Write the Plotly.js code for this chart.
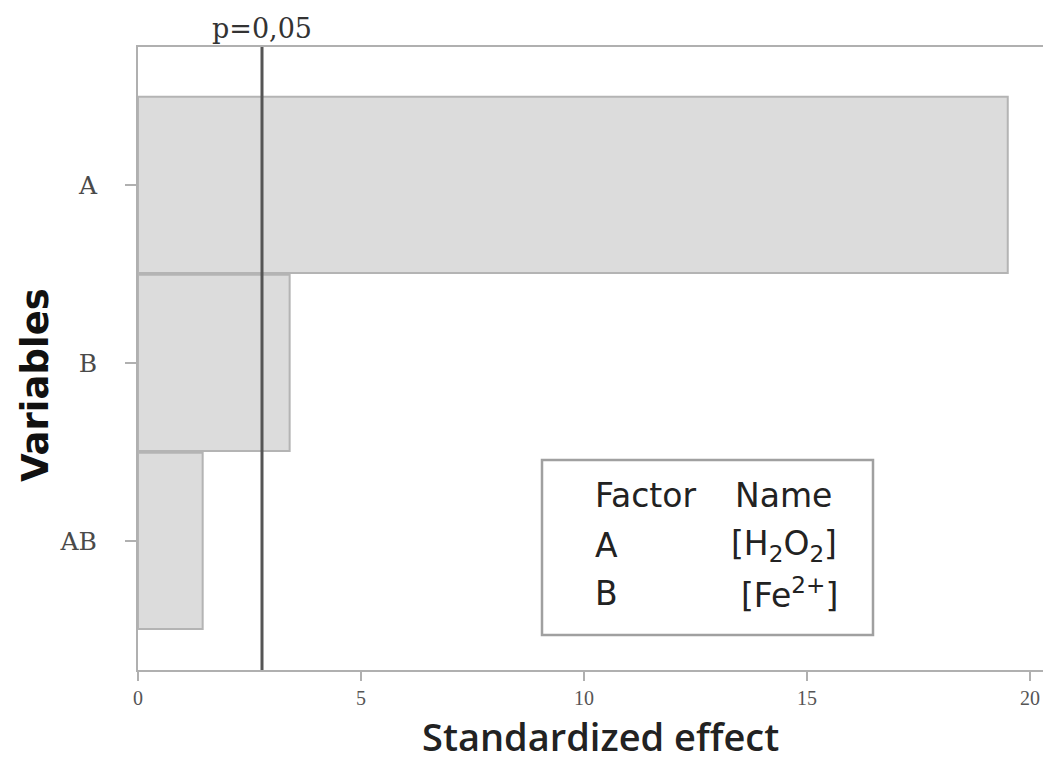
<!DOCTYPE html>
<html>
<head>
<meta charset="utf-8">
<script src="https://cdn.plot.ly/plotly-3.0.1.min.js"></script>
<style>html,body{margin:0;padding:0;background:#fff;}#chart{width:1043px;height:764px;}</style>
</head>
<body>
<div id="chart"></div>
<script>
const variables = ["A", "B", "AB"];
const effects = [19.5, 3.4, 1.45];
const pValueLine = 2.78;
const pLabel = "p=0,05";
const xTicks = [0, 5, 10, 15, 20];
const legendHeader = ["Factor", "Name"];
const legendFactors = ["A", "B"];
const legendNames = ["[H<sub>2</sub>O<sub>2</sub>]", "[Fe<sup>2+</sup>]"];

const L = 138, T = 47, W = 905, H = 623;
const px = x => (x - L) / W;
const py = y => (T + H - y) / H;

const trace = {
  type: "bar",
  orientation: "h",
  x: effects,
  y: variables,
  width: 0.99,
  marker: {color: "#dcdcdc", line: {color: "#b4b4b4", width: 2}},
  hoverinfo: "x+y"
};

const legFont = {family: "DejaVu Sans", size: 33, color: "#222"};
const annotations = [
  {x: pValueLine, xref: "x", y: py(29), yref: "paper", text: pLabel, showarrow: false,
   xanchor: "center", yanchor: "middle", font: {family: "DejaVu Serif", size: 27, color: "#333"}},
  {x: px(600), xref: "paper", y: py(736), yref: "paper", text: "Standardized effect", showarrow: false,
   xanchor: "center", yanchor: "middle", font: {family: "Open Sans", size: 38, color: "#222", weight: 600}},
  {x: px(35), xref: "paper", y: py(385), yref: "paper", text: "Variables", showarrow: false, textangle: -90,
   xanchor: "center", yanchor: "middle", font: {family: "DejaVu Sans", size: 37, color: "#111", weight: 700}},
  {x: px(593), xref: "paper", y: py(495), yref: "paper", text: legendHeader[0], showarrow: false,
   xanchor: "left", yanchor: "middle", font: legFont},
  {x: px(733), xref: "paper", y: py(495), yref: "paper", text: legendHeader[1], showarrow: false,
   xanchor: "left", yanchor: "middle", font: legFont}
];
const rowsY = [545, 593];
const nameX = [729, 739];
legendFactors.forEach((f, i) => {
  annotations.push({x: px(593), xref: "paper", y: py(rowsY[i]), yref: "paper", text: f, showarrow: false,
    xanchor: "left", yanchor: "middle", font: legFont});
  annotations.push({x: px(nameX[i]), xref: "paper", y: py(rowsY[i]), yref: "paper", text: legendNames[i], showarrow: false,
    xanchor: "left", yanchor: "middle", font: legFont});
});

const layout = {
  width: 1043, height: 764,
  margin: {l: L, r: 0, t: T, b: 764 - T - H, pad: 0},
  paper_bgcolor: "#fff", plot_bgcolor: "#fff",
  showlegend: false,
  bargap: 0,
  xaxis: {
    range: [0, 20.29], tickvals: xTicks, ticktext: xTicks.map(String),
    showgrid: false, zeroline: false, showline: true, mirror: true,
    linecolor: "#b0b0b0", linewidth: 2, ticks: "outside", ticklen: 9, tickwidth: 1.5, tickcolor: "#b0b0b0",
    tickfont: {family: "Liberation Serif", size: 20, color: "#555"}, ticklabelstandoff: 0
  },
  yaxis: {
    type: "category", categoryorder: "array", categoryarray: variables,
    range: [2.725, -0.775],
    showgrid: false, zeroline: false, showline: true, mirror: false,
    linecolor: "#b0b0b0", linewidth: 2, ticks: "outside", ticklen: 11, tickwidth: 1.5, tickcolor: "#b0b0b0",
    tickfont: {family: "DejaVu Serif", size: 25, color: "#4a4a4a"}, ticklabelstandoff: 23
  },
  shapes: [
    {type: "line", xref: "x", yref: "paper", x0: pValueLine, x1: pValueLine, y0: 0, y1: 1,
     line: {color: "#555", width: 3}},
    {type: "rect", xref: "paper", yref: "paper", x0: px(542), x1: px(873), y0: py(635), y1: py(460),
     line: {color: "#a0a0a0", width: 2.5}, fillcolor: "#fff"}
  ],
  annotations: annotations
};

Plotly.newPlot("chart", [trace], layout, {displayModeBar: false, staticPlot: true});
</script>
</body>
</html>
